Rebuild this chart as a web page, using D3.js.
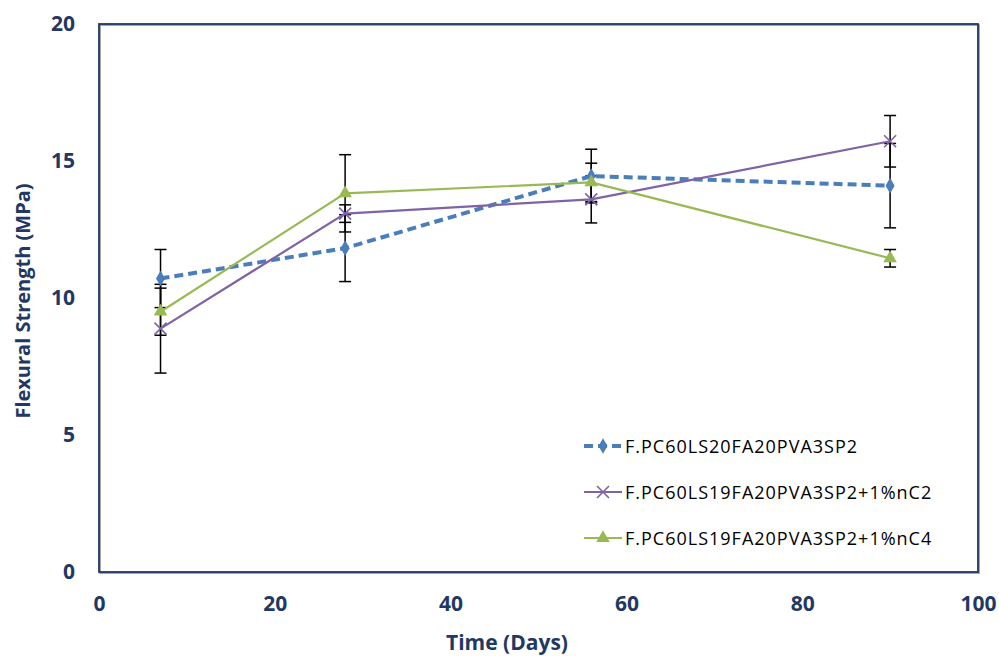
<!DOCTYPE html>
<html>
<head>
<meta charset="utf-8">
<script src="https://cdn.jsdelivr.net/npm/d3@7"></script>
<style>
  body { margin: 0; background: #fff; }
  text { font-family: "Open Sans", "Liberation Sans", sans-serif; }
</style>
</head>
<body>
<div id="main"></div>
<script>
/*********************************************************
 * Data
 *********************************************************/
const days = [7, 28, 56, 90];
const seriesNames = [
  'F.PC60LS20FA20PVA3SP2',
  'F.PC60LS19FA20PVA3SP2+1%nC2',
  'F.PC60LS19FA20PVA3SP2+1%nC4'
];
const valuesA = [10.71, 11.82, 14.45, 14.10];
const valuesB = [8.88, 13.08, 13.60, 15.72];
const valuesC = [9.50, 13.82, 14.22, 11.45];
const errorsA = [1.06, 1.22, 0.98, 1.54];
const errorsB = [1.62, 0.32, 0.86, 0.94];
const errorsC = [0.86, 1.41, 0.70, 0.32];
const xTicks = [0, 20, 40, 60, 80, 100];
const yTicks = [0, 5, 10, 15, 20];

/*********************************************************
 * Layout
 *********************************************************/
const svgWidth = 999;
const svgHeight = 656;
const margin = { t: 24, r: 21, b: 84, l: 99 };
const chartWidth = svgWidth - margin.l - margin.r;
const chartHeight = svgHeight - margin.t - margin.b;
const navy = '#1f3864';

const svg = d3.select('#main')
  .append('svg')
  .attr('width', svgWidth)
  .attr('height', svgHeight);

const x = d3.scaleLinear().domain([0, 100]).range([0, chartWidth]);
const y = d3.scaleLinear().domain([0, 20]).range([chartHeight, 0]);

const plot = svg.append('g')
  .attr('transform', `translate(${margin.l}, ${margin.t})`);

// frame (with a faint grey shadow like the original)
plot.append('rect')
  .attr('x', 1).attr('y', 1)
  .attr('width', chartWidth).attr('height', chartHeight)
  .attr('fill', 'none').attr('stroke', '#8a8a8a').attr('stroke-width', 1.5);
plot.append('rect')
  .attr('width', chartWidth).attr('height', chartHeight)
  .attr('fill', 'none').attr('stroke', navy).attr('stroke-width', 1.8);

// axes: labels only, no tick marks
const xAxis = d3.axisBottom(x).tickValues(xTicks).tickSize(0).tickPadding(24);
const yAxis = d3.axisLeft(y).tickValues(yTicks).tickSize(0).tickPadding(24);

const gX = plot.append('g')
  .attr('transform', `translate(0, ${chartHeight})`)
  .call(xAxis);
const gY = plot.append('g').call(yAxis);
[gX, gY].forEach(g => {
  g.select('.domain').remove();
  g.selectAll('text')
    .style('font-family', '"Open Sans", sans-serif')
    .style('font-size', '21px')
    .style('font-weight', 'bold')
    .attr('fill', navy);
});

svg.append('text')
  .attr('x', 507)
  .attr('y', 650)
  .attr('text-anchor', 'middle')
  .style('font-size', '21px').style('font-weight', 'bold')
  .attr('fill', navy)
  .text('Time (Days)');

svg.append('text')
  .attr('transform', 'translate(30, 301) rotate(-90)')
  .attr('text-anchor', 'middle')
  .style('font-size', '20px').style('font-weight', 'bold')
  .attr('fill', navy)
  .text('Flexural Strength (MPa)');

/*********************************************************
 * Series
 *********************************************************/
const series = [
  { name: seriesNames[0], values: valuesA, errors: errorsA, color: '#4a7ebb', dash: '9,5', width: 4, marker: 'diamond' },
  { name: seriesNames[1], values: valuesB, errors: errorsB, color: '#7f63a6', dash: null, width: 2.2, marker: 'cross' },
  { name: seriesNames[2], values: valuesC, errors: errorsC, color: '#98b954', dash: null, width: 2.2, marker: 'triangle' }
];

const line = d3.line()
  .x(d => x(d.day))
  .y(d => y(d.value));

function drawMarker(g, type, color) {
  if (type === 'diamond') {
    g.append('path').attr('d', d3.symbol(d3.symbolDiamond, 70)()).attr('fill', color);
  } else if (type === 'triangle') {
    g.append('path').attr('d', d3.symbol(d3.symbolTriangle, 80)()).attr('fill', color);
  } else {
    g.append('path').attr('d', 'M-6,-6L6,6M-6,6L6,-6')
      .attr('stroke', color).attr('stroke-width', 1.6).attr('fill', 'none');
  }
}

// error bars first (behind lines)
series.forEach(s => {
  const pts = days.map((d, i) => ({ day: d, value: s.values[i], err: s.errors[i] }));
  const eb = plot.append('g').attr('class', 'errbars');
  pts.forEach(p => {
    const cx = x(p.day);
    const y0 = y(p.value - p.err);
    const y1 = y(p.value + p.err);
    eb.append('line').attr('x1', cx).attr('x2', cx).attr('y1', y0).attr('y2', y1)
      .attr('stroke', '#000').attr('stroke-width', 1.5);
    [y0, y1].forEach(yy => {
      eb.append('line').attr('x1', cx - 6).attr('x2', cx + 6).attr('y1', yy).attr('y2', yy)
        .attr('stroke', '#000').attr('stroke-width', 1.5);
    });
  });
});

series.forEach(s => {
  const pts = days.map((d, i) => ({ day: d, value: s.values[i] }));
  plot.append('path')
    .datum(pts)
    .attr('d', line)
    .attr('fill', 'none')
    .attr('stroke', s.color)
    .attr('stroke-width', s.width)
    .attr('stroke-dasharray', s.dash);
  pts.forEach(p => {
    const g = plot.append('g').attr('transform', `translate(${x(p.day)}, ${y(p.value)})`);
    drawMarker(g, s.marker, s.color);
  });
});

/*********************************************************
 * Legend
 *********************************************************/
const legend = svg.append('g').attr('transform', 'translate(584, 446)');
series.forEach((s, i) => {
  const row = legend.append('g').attr('transform', `translate(0, ${i * 46})`);
  row.append('line')
    .attr('x1', 0).attr('x2', 38).attr('y1', 0).attr('y2', 0)
    .attr('stroke', s.color).attr('stroke-width', s.width)
    .attr('stroke-dasharray', s.dash);
  const m = row.append('g').attr('transform', 'translate(19, 0)');
  drawMarker(m, s.marker, s.color);
  row.append('text')
    .attr('x', 41).attr('y', 7)
    .style('font-size', '18px')
    .style('letter-spacing', '1px')
    .attr('fill', '#000')
    .text(s.name);
});
</script>
</body>
</html>
